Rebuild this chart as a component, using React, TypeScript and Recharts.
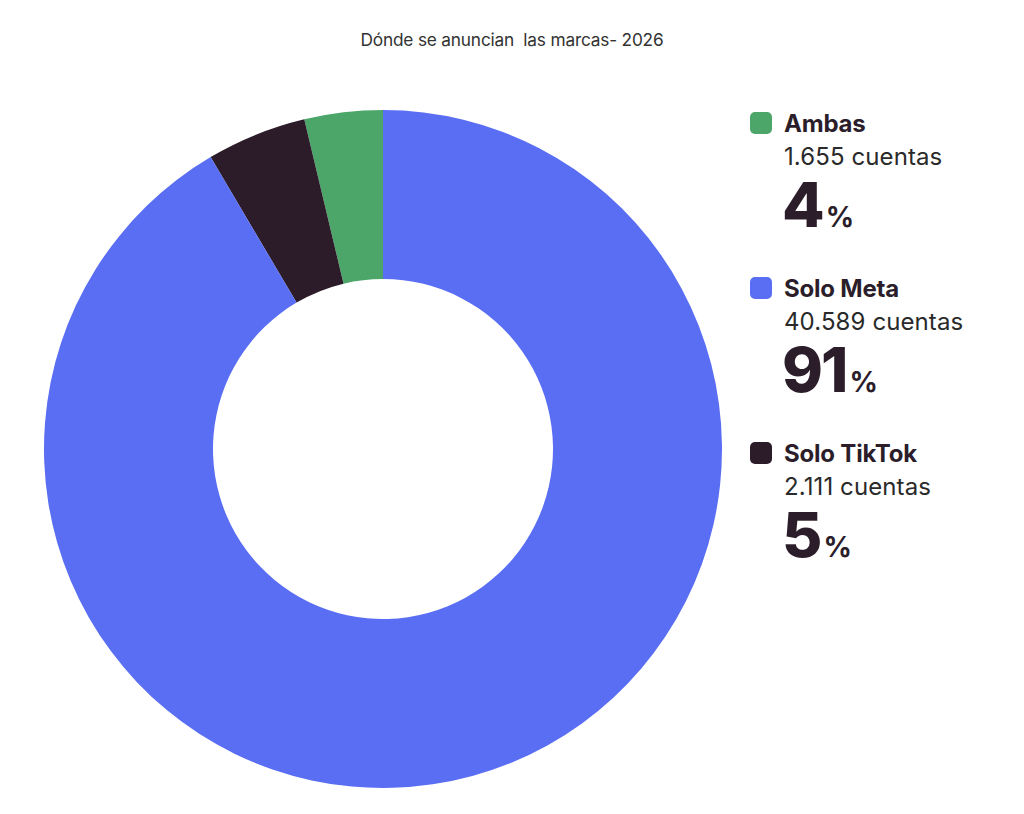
import React from 'react';
import { PieChart, Pie, Cell } from 'recharts';

const categories = ['Ambas', 'Solo TikTok', 'Solo Meta'];
const accounts = [1655, 2111, 40589];
const accountLabels = ['1.655', '2.111', '40.589'];
const percentLabels = ['4', '5', '91'];
const COLORS = ['#4CA66A', '#2C1C29', '#5A6EF3'];
// legend lists them in a different order than the ring
const legendOrder = [0, 2, 1];

const data = categories.map((name, i) => ({
  name,
  value: accounts[i],
  label: accountLabels[i],
  pct: percentLabels[i],
}));

const FONT = 'Inter, "Noto Sans", sans-serif';
const INK = '#2B1E2A';

const SideLegend = () => (
  <div style={{ position: 'absolute', left: 742, top: 101, width: 260, height: 500, fontFamily: FONT }}>
    {legendOrder.map((idx, i) => {
      const d = data[idx];
      const top = i * 165;
      return (
        <div key={d.name} style={{ position: 'absolute', left: 0, top, width: 260 }}>
          <div style={{
            position: 'absolute', left: 0, top: 3, width: 22, height: 22,
            borderRadius: 5, background: COLORS[idx]
          }} />
          <div style={{
            position: 'absolute', left: 34, top: 0, lineHeight: '30px',
            fontSize: 24, fontWeight: 700, color: INK, whiteSpace: 'nowrap', letterSpacing: '-0.2px'
          }}>{d.name}</div>
          <div style={{
            position: 'absolute', left: 34, top: 33, lineHeight: '30px',
            fontSize: 24, fontWeight: 400, color: '#2a2a2a', whiteSpace: 'nowrap', letterSpacing: '0.1px'
          }}>{d.label} cuentas</div>
          <div style={{
            position: 'absolute', left: 32, top: 65, lineHeight: '62px',
            fontSize: 62, fontWeight: 800, color: INK, whiteSpace: 'nowrap', letterSpacing: '-2px'
          }}>
            {d.pct}
            <span style={{ fontSize: 28, fontWeight: 700, letterSpacing: 0, marginLeft: 3 }}>%</span>
          </div>
        </div>
      );
    })}
  </div>
);

export default function App() {
  return (
    <div style={{ position: 'relative', width: 1008, height: 798, background: '#fff' }}>
      <div style={{
        position: 'absolute', left: 0, width: 1008, top: 21, textAlign: 'center',
        fontFamily: FONT, fontSize: 17.3, color: '#333', whiteSpace: 'pre', letterSpacing: '-0.2px'
      }}>
        {'Dónde se anuncian  las marcas- 2026'}
      </div>
      <PieChart width={1008} height={798} margin={{ top: 0, right: 0, bottom: 0, left: 0 }}>
        <Pie
          data={data}
          dataKey="value"
          nameKey="name"
          cx={375}
          cy={441}
          innerRadius={170}
          outerRadius={339}
          startAngle={90}
          endAngle={450}
          stroke="none"
          isAnimationActive={false}
        >
          {data.map((d, i) => (
            <Cell key={d.name} fill={COLORS[i]} stroke="none" />
          ))}
        </Pie>
      </PieChart>
      <SideLegend />
    </div>
  );
}
